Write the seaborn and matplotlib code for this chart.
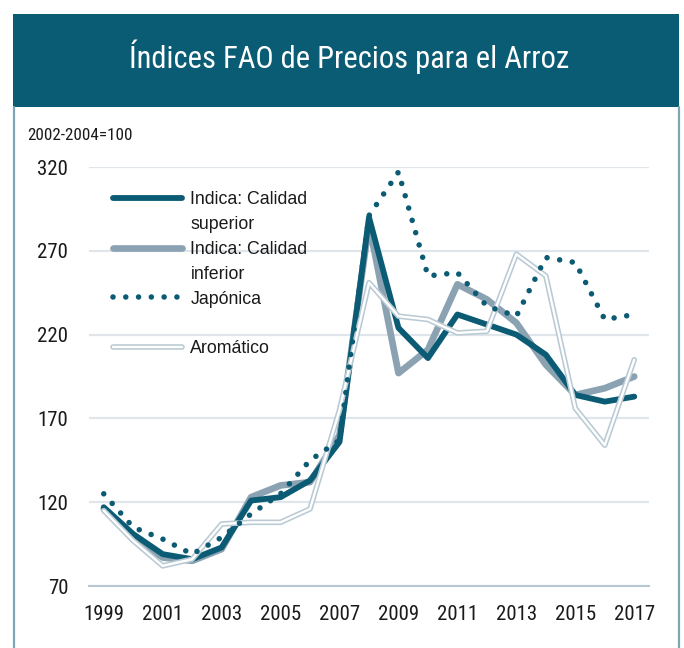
import pandas as pd
import seaborn as sns
import matplotlib.pyplot as plt
import matplotlib.patheffects as pe
from matplotlib import font_manager
from matplotlib.lines import Line2D
from matplotlib.patches import Rectangle

# Datos (índices, 2002-2004=100)
years = list(range(1999, 2018))
superior = [117, 101, 89, 86, 93, 121, 123, 133, 156, 290, 224, 206, 232, 226, 220, 208, 184, 180, 183]
inferior = [116, 98, 87, 85, 92, 123, 130, 132, 160, 286, 197, 211, 250, 241, 227, 202, 184, 188, 195]
japonica = [125, 105, 98, 89, 99, 113, 125, 145, 157, 291, 317, 255, 257, 237, 231, 266, 263, 229, 232]
aromatico = [115, 97, 82, 86, 107, 108, 108, 116, 175, 251, 231, 229, 221, 222, 268, 255, 176, 154, 205]

yticks = [70, 120, 170, 220, 270, 320]
xlabels = list(range(1999, 2018, 2))

data = pd.DataFrame({'year': years, 'superior': superior, 'inferior': inferior,
                     'japonica': japonica, 'aromatico': aromatico})

# Colores
teal = '#0a5b73'
gris = '#8ba2b2'
claro = '#b9cad4'
borde = '#7fa6b7'

sns.set_style("white")
available = {f.name for f in font_manager.fontManager.ttflist}
narrow = next((f for f in ['Roboto Condensed', 'Liberation Sans Narrow', 'DejaVu Sans Condensed']
               if f in available), 'Liberation Sans')
plt.rcParams['font.family'] = [narrow, 'DejaVu Sans']

fig = plt.figure(figsize=(6.84, 6.48), dpi=100)
ax = fig.add_axes([89 / 684, 62 / 648, 560 / 684, 419 / 648])

# línea doble para el aromático
doble = [pe.Stroke(linewidth=4.0, foreground=claro), pe.Normal()]
puntos = (0, (0.001, 2.3))

# Series
sns.lineplot(x='year', y='inferior', data=data, ax=ax, color=gris, lw=4.8, clip_on=False)
sns.lineplot(x='year', y='superior', data=data, ax=ax, color=teal, lw=4.2, clip_on=False)
sns.lineplot(x='year', y='aromatico', data=data, ax=ax, color='white', lw=1.7,
             path_effects=doble, clip_on=False)
sns.lineplot(x='year', y='japonica', data=data, ax=ax, color=teal, lw=4.0,
             linestyle=puntos, dash_capstyle='round', clip_on=False)

ax.set_xlim(1998.5, 2017.5)
ax.set_ylim(70, 320)
ax.set_yticks(yticks)
ax.set_xticks(xlabels)
ax.set_xticks([y + 0.5 for y in range(1998, 2018)], minor=True)
ax.set_xlabel('')
ax.set_ylabel('')
ax.yaxis.grid(True, color='#dfe5ea', lw=1.6)
ax.set_axisbelow(True)
for s in ['top', 'left', 'right']:
    ax.spines[s].set_visible(False)
ax.spines['bottom'].set_color('#b7c7d1')
ax.spines['bottom'].set_linewidth(1.5)
ax.tick_params(axis='y', length=0, pad=15, labelsize=15, labelcolor='#1a1a1a')
ax.tick_params(axis='x', which='major', length=0, pad=14, labelsize=15, labelcolor='#1a1a1a')
ax.tick_params(axis='x', which='minor', length=4.5, width=1.5, color='#b7c7d1')

# Leyenda
blank = Line2D([], [], color='none')
h_sup = Line2D([], [], color=teal, lw=4.2, solid_capstyle='round')
h_inf = Line2D([], [], color=gris, lw=4.8, solid_capstyle='round')
h_jap = Line2D([], [], color=teal, lw=4.0, linestyle=puntos, dash_capstyle='round')
h_aro = Line2D([], [], color='white', lw=1.7, solid_capstyle='round', path_effects=doble)
leg = ax.legend([h_sup, blank, h_inf, blank, h_jap, blank, h_aro],
                ['Indica: Calidad', 'superior', 'Indica: Calidad', 'inferior', 'Japónica', '', 'Aromático'],
                loc='upper left', bbox_to_anchor=(0.043, 0.942), frameon=False,
                borderaxespad=0, borderpad=0, handlelength=3.9, handletextpad=0.45,
                labelspacing=0.44, prop={'family': ['Liberation Sans', 'DejaVu Sans'], 'size': 12.8})
for t in leg.get_texts():
    t.set_color('#1a1a1a')

# Marco y encabezado
fig.add_artist(Rectangle((13 / 684, 1 - 107 / 648), 666 / 684, 93 / 648,
                         transform=fig.transFigure, color='#0a5c74', lw=0))
for x in [13.5, 678.5]:
    fig.add_artist(Line2D([x / 684, x / 684], [0, 1 - 107 / 648], transform=fig.transFigure,
                          color=borde, lw=1.6))
fig.text(349 / 684, 1 - 57 / 648, 'Índices FAO de Precios para el Arroz', color='white',
         ha='center', va='center', fontsize=22)
fig.text(27 / 684, 1 - 135 / 648, '2002-2004=100', ha='left', va='center', fontsize=12.3,
         color='#1a1a1a')

fig.savefig('out.png', dpi=100)
